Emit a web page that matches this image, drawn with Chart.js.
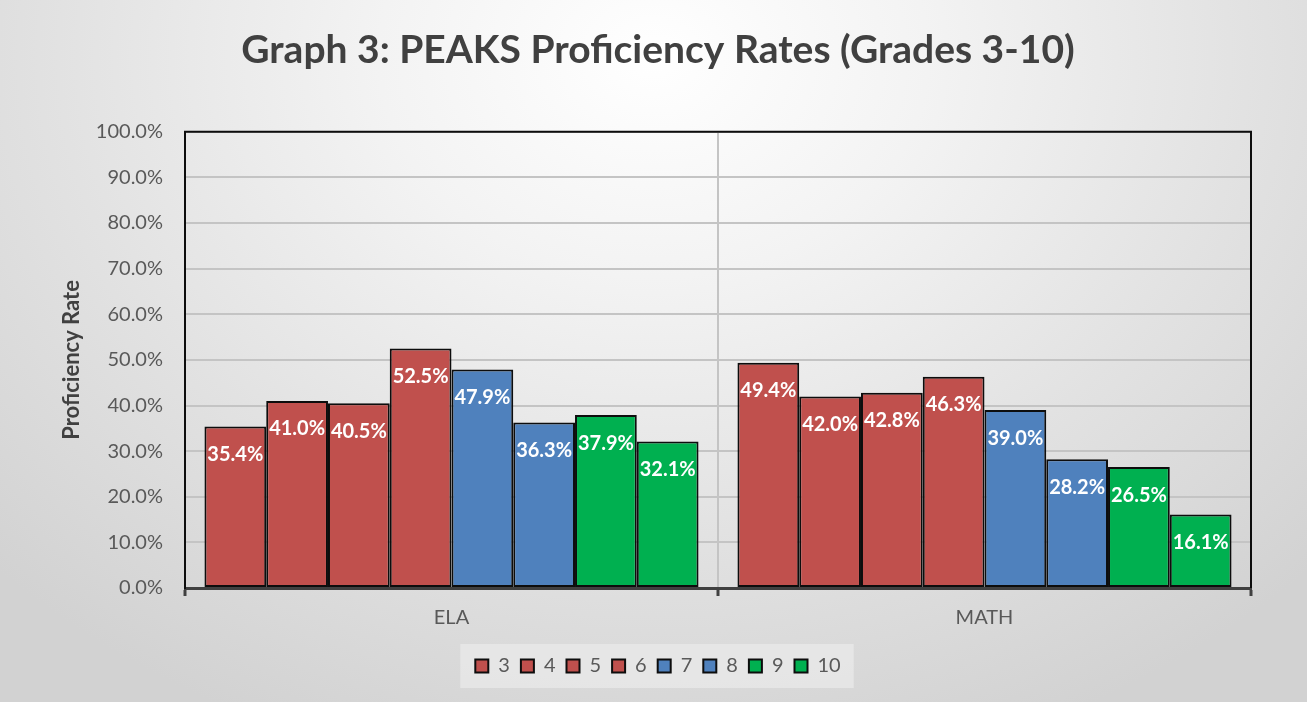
<!DOCTYPE html>
<html>
<head>
<meta charset="utf-8">
<script src="https://cdn.jsdelivr.net/npm/chart.js@4/dist/chart.umd.min.js"></script>
<style>
  html, body { margin: 0; padding: 0; }
  body {
    width: 1307px; height: 702px; overflow: hidden;
    background: radial-gradient(ellipse 70% 105% at 50% 8%, #ffffff 0%, #f3f3f3 30%, #e2e2e2 65%, #d2d2d2 100%);
  }
  #wrap { width: 1307px; height: 702px; }
</style>
</head>
<body>
<div id="wrap"><canvas id="grafik"></canvas></div>
<script>
const kategori = ["ELA", "MATH"];
const kelas = ["3", "4", "5", "6", "7", "8", "9", "10"];
const nilaiELA = [35.4, 41.0, 40.5, 52.5, 47.9, 36.3, 37.9, 32.1];
const nilaiMATH = [49.4, 42.0, 42.8, 46.3, 39.0, 28.2, 26.5, 16.1];
const warnaKelas = ["#C0504D", "#C0504D", "#C0504D", "#C0504D", "#4F81BD", "#4F81BD", "#00B050", "#00B050"];
const tickY = [0, 10, 20, 30, 40, 50, 60, 70, 80, 90, 100];

const FONT = "Lato, 'Open Sans', sans-serif";

const datasets = kelas.map((k, i) => ({
    label: k,
    data: [nilaiELA[i], nilaiMATH[i]],
    backgroundColor: warnaKelas[i],
    borderColor: "#0d0d0d",
    borderWidth: 2,
    borderSkipped: false,
}));

// label putih di dalam ujung batang + kotak latar legend + bingkai area plot
const pluginLabel = {
    id: "pluginLabel",
    beforeDraw(chart) {
        const lg = chart.legend;
        if (!lg || !lg.legendHitBoxes.length) return;
        const boxes = lg.legendHitBoxes;
        const kiri = Math.min(...boxes.map((b) => b.left)) - 15;
        const kanan = Math.max(...boxes.map((b) => b.left + b.width)) + 13;
        const tengah = boxes[0].top + boxes[0].height / 2;
        const ctx = chart.ctx;
        ctx.save();
        ctx.fillStyle = "rgba(232,232,232,0.85)";
        ctx.fillRect(kiri, tengah - 22, kanan - kiri, 44);
        ctx.restore();
    },
    beforeDatasetsDraw(chart) {
        const a = chart.chartArea;
        const ctx = chart.ctx;
        ctx.save();
        ctx.strokeStyle = "#0d0d0d";
        ctx.lineWidth = 2;
        ctx.beginPath();
        ctx.moveTo(a.left, a.bottom);
        ctx.lineTo(a.left, a.top);
        ctx.lineTo(a.right, a.top);
        ctx.lineTo(a.right, a.bottom);
        ctx.stroke();
        ctx.restore();
    },
    afterDatasetsDraw(chart) {
        const ctx = chart.ctx;
        ctx.save();
        ctx.font = "bold 20px " + FONT;
        ctx.fillStyle = "#ffffff";
        ctx.textAlign = "center";
        ctx.textBaseline = "middle";
        chart.data.datasets.forEach((ds, i) => {
            chart.getDatasetMeta(i).data.forEach((bar, j) => {
                ctx.fillText(ds.data[j].toFixed(1) + "%", bar.x, bar.y + 28);
            });
        });
        ctx.restore();
    },
};

new Chart(document.getElementById("grafik"), {
    type: "bar",
    data: { labels: kategori, datasets: datasets },
    options: {
        responsive: true,
        maintainAspectRatio: false,
        animation: false,
        layout: { padding: { top: 0, left: 65, right: 56, bottom: 16 } },
        datasets: { bar: { categoryPercentage: 0.927, barPercentage: 1.0 } },
        plugins: {
            tooltip: { enabled: false },
            title: {
                display: true,
                text: "Graph 3: PEAKS Proficiency Rates (Grades 3-10)",
                color: "#404040",
                font: { family: FONT, size: 39, weight: "bold", lineHeight: 1.2 },
                padding: { top: 27, bottom: 58 },
            },
            legend: {
                position: "bottom",
                labels: {
                    boxWidth: 13,
                    boxHeight: 13,
                    padding: 11,
                    color: "#595959",
                    font: { family: FONT, size: 20 },
                },
            },
        },
        scales: {
            x: {
                afterFit(s) { s.height = 57; },
                grid: {
                    offset: true,
                    color: "#c4c4c4",
                    lineWidth: 2,
                    drawTicks: true,
                    tickLength: 8,
                    tickColor: "#404040",
                    tickWidth: 3,
                },
                border: { color: "#404040", width: 3 },
                ticks: { color: "#595959", padding: 10, font: { family: FONT, size: 20 } },
            },
            y: {
                min: 0,
                max: 100,
                afterFit(s) { s.width = 120; },
                afterBuildTicks(s) { s.ticks = tickY.map((v) => ({ value: v })); },
                grid: { color: "#c4c4c4", lineWidth: 2, drawTicks: false, tickLength: 0 },
                border: { color: "#0d0d0d", width: 2 },
                ticks: {
                    color: "#595959",
                    padding: 22,
                    font: { family: FONT, size: 20 },
                    callback: (v) => Number(v).toFixed(1) + "%",
                },
                title: {
                    display: true,
                    text: "Proficiency Rate",
                    color: "#404040",
                    padding: { top: -4, bottom: 0 },
                    font: { family: FONT, size: 22, weight: "bold", lineHeight: 1.0 },
                },
            },
        },
    },
    plugins: [pluginLabel],
});
</script>
</body>
</html>
